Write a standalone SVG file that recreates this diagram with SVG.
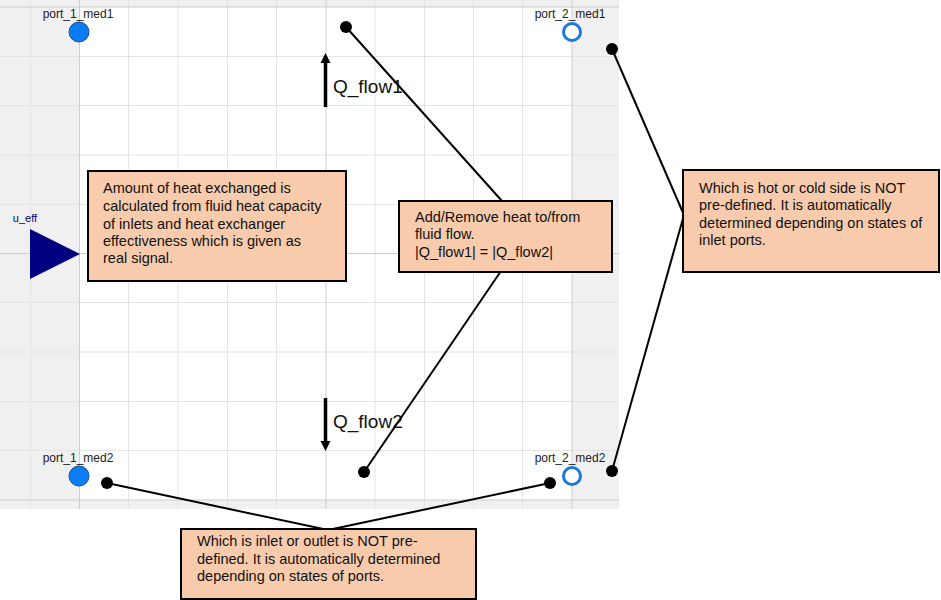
<svg xmlns="http://www.w3.org/2000/svg" width="941" height="600" viewBox="0 0 941 600">
<defs>
<style>
.g{stroke:#e4e4e4;stroke-width:1;fill:none}
.ax{stroke:#cdcdcd;stroke-width:1;fill:none}
.plbl{font-family:"Liberation Sans",Arial,sans-serif;font-size:12px;fill:#222}
.note{fill:#f8cbad;stroke:#000;stroke-width:2}
.nt{font-family:"Liberation Sans",Arial,sans-serif;font-size:14.5px;fill:#111}
.q{font-family:"Liberation Sans",Arial,sans-serif;font-size:19px;fill:#111}
.con{stroke:#000;stroke-width:2;fill:none}
.dot{fill:#000}
.pf{fill:#0a7cf5;stroke:#1b4f8f;stroke-width:1}
.ph{fill:#fff;stroke:#1c78e0;stroke-width:3}
</style>
</defs>
<rect width="941" height="600" fill="#fff"/>
<g id="canvas">
<rect x="0" y="0" width="619" height="509" fill="#f0f0f0"/>
<rect x="79.5" y="7" width="492.5" height="493" fill="#fff"/>
<g class="g">
<path d="M30.5 0V509M128.5 0V509M178 0V509M227.5 0V509M276.5 0V509M375 0V509M424.5 0V509M473.5 0V509M522.5 0V509"/>
<path d="M0 56.5H619M0 105.5H619M0 155H619M0 204.5H619M0 302.5H619M0 352H619M0 401.5H619M0 450.5H619"/>
</g>
<g class="ax">
<path d="M79.5 0V509M572 0V509M326 0V509M0 7H619M0 500H619M0 253.5H619"/>
</g>
</g>
<g id="port_1_med1">
<text class="plbl" x="78" y="18" text-anchor="middle">port_1_med1</text>
<circle class="pf" cx="79" cy="32" r="10"/>
</g>
<g id="port_2_med1">
<text class="plbl" x="570" y="18" text-anchor="middle">port_2_med1</text>
<circle class="ph" cx="572" cy="32" r="8.5"/>
</g>
<g id="port_1_med2">
<text class="plbl" x="78" y="462" text-anchor="middle">port_1_med2</text>
<circle class="pf" cx="79" cy="476" r="10"/>
</g>
<g id="port_2_med2">
<text class="plbl" x="570" y="462" text-anchor="middle">port_2_med2</text>
<circle class="ph" cx="572" cy="476" r="8.5"/>
</g>
<g id="u_eff">
<text x="25" y="222" text-anchor="middle" font-family="Liberation Sans, Arial, sans-serif" font-size="11" fill="#000080">u_eff</text>
<polygon points="30,229 80,254 30,279" fill="#000080"/>
</g>
<g id="Q_flow1">
<line x1="325.5" y1="107" x2="325.5" y2="60" stroke="#000" stroke-width="3.5"/>
<polygon points="320.5,63 325.5,53 330.5,63" fill="#000"/>
<text class="q" x="333" y="93">Q_flow1</text>
</g>
<g id="Q_flow2">
<line x1="325.5" y1="398" x2="325.5" y2="444" stroke="#000" stroke-width="3.5"/>
<polygon points="320.5,441 325.5,451 330.5,441" fill="#000"/>
<text class="q" x="333" y="428">Q_flow2</text>
</g>
<g id="connectors">
<line class="con" x1="346" y1="27" x2="502" y2="201"/>
<circle class="dot" cx="346" cy="27" r="6"/>
<line class="con" x1="364" y1="472" x2="501" y2="271"/>
<circle class="dot" cx="364" cy="472" r="6"/>
<line class="con" x1="612" y1="49" x2="684" y2="215"/>
<circle class="dot" cx="612" cy="49" r="6"/>
<line class="con" x1="612" y1="471" x2="684" y2="215"/>
<circle class="dot" cx="612" cy="471" r="6"/>
<line class="con" x1="107" y1="483" x2="328" y2="530"/>
<circle class="dot" cx="107" cy="483" r="6"/>
<line class="con" x1="550" y1="483" x2="328" y2="530"/>
<circle class="dot" cx="550" cy="483" r="6"/>
</g>
<g id="note_heat_amount">
<rect class="note" x="88" y="171" width="258" height="110"/>
<text class="nt" x="103" y="193">Amount of heat exchanged is</text>
<text class="nt" x="103" y="211">calculated from fluid heat capacity</text>
<text class="nt" x="103" y="228.5">of inlets and heat exchanger</text>
<text class="nt" x="103" y="246">effectiveness which is given as</text>
<text class="nt" x="103" y="263">real signal.</text>
</g>
<g id="note_add_remove">
<rect class="note" x="399" y="201" width="213" height="71"/>
<text class="nt" x="415" y="221.5">Add/Remove heat to/from</text>
<text class="nt" x="415" y="239">fluid flow.</text>
<text class="nt" x="415" y="256.5">|Q_flow1| = |Q_flow2|</text>
</g>
<g id="note_hot_cold">
<rect class="note" x="683" y="170" width="256" height="102"/>
<text class="nt" x="699" y="192.5">Which is hot or cold side is NOT</text>
<text class="nt" x="699" y="210">pre-defined. It is automatically</text>
<text class="nt" x="699" y="227.5">determined depending on states of</text>
<text class="nt" x="699" y="245">inlet ports.</text>
</g>
<g id="note_inlet_outlet">
<rect class="note" x="181" y="529" width="295" height="70"/>
<text class="nt" x="197" y="546">Which is inlet or outlet is NOT pre-</text>
<text class="nt" x="197" y="563.5">defined. It is automatically determined</text>
<text class="nt" x="197" y="581">depending on states of ports.</text>
</g>
</svg>
